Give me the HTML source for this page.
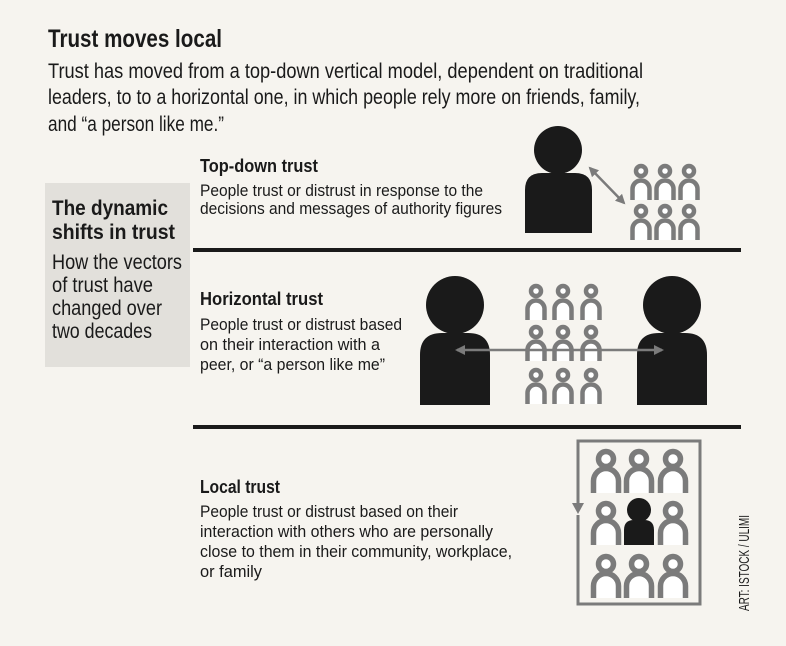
<!DOCTYPE html>
<html><head><meta charset="utf-8"><style>
html,body{margin:0;padding:0;background:#f6f4ef;}
svg{display:block}
text{font-family:"Liberation Sans",sans-serif;fill:#1a1a1a}
.b{font-weight:bold}
</style></head><body>
<svg width="786" height="646" viewBox="0 0 786 646" xmlns="http://www.w3.org/2000/svg">
<defs>
<g id="p">
<circle cx="16" cy="11" r="7.5" fill="#fff" stroke="#7b7b7b" stroke-width="5.5"/>
<path d="M3.5 45 V33 A12.5 12.5 0 0 1 28.5 33 V45" fill="#fff" stroke="#7b7b7b" stroke-width="5.5"/>
</g>
<g id="s">
<circle cx="11" cy="8" r="5" fill="#fff" stroke="#7b7b7b" stroke-width="4.5"/>
<path d="M2.5 37 V26 A8.5 8.5 0 0 1 19.5 26 V37" fill="#fff" stroke="#7b7b7b" stroke-width="4.5"/>
</g>
<marker id="a" markerWidth="10" markerHeight="10" refX="8" refY="5" orient="auto-start-reverse" markerUnits="userSpaceOnUse"><path d="M0 0 L10 5 L0 10 Z" fill="#7b7b7b"/></marker>
</defs>
<rect x="0" y="0" width="786" height="646" fill="#f6f4ef"/>
<text x="48" y="47" class="b" font-size="25" textLength="174" lengthAdjust="spacingAndGlyphs">Trust moves local</text>
<text x="48" y="78" font-size="21" textLength="595" lengthAdjust="spacingAndGlyphs">Trust has moved from a top-down vertical model, dependent on traditional</text>
<text x="48" y="104" font-size="21" textLength="592" lengthAdjust="spacingAndGlyphs">leaders, to to a horizontal one, in which people rely more on friends, family,</text>
<text x="48" y="131" font-size="21" textLength="176" lengthAdjust="spacingAndGlyphs">and “a person like me.”</text>

<rect x="45" y="183" width="145" height="184" fill="#e2e0db"/>
<text x="52" y="215" class="b" font-size="21" textLength="116" lengthAdjust="spacingAndGlyphs">The dynamic</text>
<text x="52" y="239" class="b" font-size="21" textLength="123" lengthAdjust="spacingAndGlyphs">shifts in trust</text>
<text x="52" y="269" font-size="21" textLength="130" lengthAdjust="spacingAndGlyphs">How the vectors</text>
<text x="52" y="292" font-size="21" textLength="101" lengthAdjust="spacingAndGlyphs">of trust have</text>
<text x="52" y="315" font-size="21" textLength="110" lengthAdjust="spacingAndGlyphs">changed over</text>
<text x="52" y="338" font-size="21" textLength="100" lengthAdjust="spacingAndGlyphs">two decades</text>

<text x="200" y="172" class="b" font-size="18" textLength="118" lengthAdjust="spacingAndGlyphs">Top-down trust</text>
<text x="200" y="196" font-size="17" textLength="283" lengthAdjust="spacingAndGlyphs">People trust or distrust in response to the</text>
<text x="200" y="214" font-size="17" textLength="302" lengthAdjust="spacingAndGlyphs">decisions and messages of authority figures</text>

<rect x="193" y="248" width="548" height="4" fill="#1a1a1a"/>
<rect x="193" y="425" width="548" height="4" fill="#1a1a1a"/>

<text x="200" y="305" class="b" font-size="18" textLength="123" lengthAdjust="spacingAndGlyphs">Horizontal trust</text>
<text x="200" y="330" font-size="17" textLength="202" lengthAdjust="spacingAndGlyphs">People trust or distrust based</text>
<text x="200" y="350" font-size="17" textLength="180" lengthAdjust="spacingAndGlyphs">on their interaction with a</text>
<text x="200" y="370" font-size="17" textLength="185" lengthAdjust="spacingAndGlyphs">peer, or “a person like me”</text>

<text x="200" y="493" class="b" font-size="18" textLength="80" lengthAdjust="spacingAndGlyphs">Local trust</text>
<text x="200" y="517" font-size="17" textLength="258" lengthAdjust="spacingAndGlyphs">People trust or distrust based on their</text>
<text x="200" y="537" font-size="17" textLength="293" lengthAdjust="spacingAndGlyphs">interaction with others who are personally</text>
<text x="200" y="557" font-size="17" textLength="312" lengthAdjust="spacingAndGlyphs">close to them in their community, workplace,</text>
<text x="200" y="577" font-size="17" textLength="62" lengthAdjust="spacingAndGlyphs">or family</text>

<!-- top-down -->
<circle cx="558" cy="150" r="24" fill="#1a1a1a"/>
<path d="M525 233 V190 Q525 173 542 173 H575 Q592 173 592 190 V233 Z" fill="#1a1a1a"/>
<line x1="590" y1="168" x2="624" y2="203" stroke="#7b7b7b" stroke-width="2.5" marker-start="url(#a)" marker-end="url(#a)"/>
<use href="#s" x="630" y="163"/><use href="#s" x="654" y="163"/><use href="#s" x="678" y="163"/>
<use href="#s" x="630" y="203"/><use href="#s" x="654" y="203"/><use href="#s" x="678" y="203"/>

<!-- horizontal -->
<circle cx="455" cy="305" r="29" fill="#1a1a1a"/>
<path d="M420 405 V355 Q420 333 442 333 H468 Q490 333 490 355 V405 Z" fill="#1a1a1a"/>
<circle cx="672" cy="305" r="29" fill="#1a1a1a"/>
<path d="M637 405 V355 Q637 333 659 333 H685 Q707 333 707 355 V405 Z" fill="#1a1a1a"/>
<use href="#s" x="525" y="283"/><use href="#s" x="552" y="283"/><use href="#s" x="580" y="283"/>
<use href="#s" x="525" y="324"/><use href="#s" x="552" y="324"/><use href="#s" x="580" y="324"/>
<use href="#s" x="525" y="367"/><use href="#s" x="552" y="367"/><use href="#s" x="580" y="367"/>
<line x1="457" y1="350" x2="662" y2="350" stroke="#7b7b7b" stroke-width="2.5" marker-start="url(#a)" marker-end="url(#a)"/>

<!-- local -->
<rect x="578" y="441" width="122" height="163" fill="none" stroke="#7b7b7b" stroke-width="3"/>
<rect x="572" y="505" width="12" height="10" fill="#f6f4ef"/>
<path d="M572 503 L584 503 L578 514 Z" fill="#7b7b7b"/>
<g transform="translate(590,448)"><use href="#p"/></g>
<g transform="translate(623,448)"><use href="#p"/></g>
<g transform="translate(657,448)"><use href="#p"/></g>
<g transform="translate(590,500)"><use href="#p"/></g>
<g transform="translate(657,500)"><use href="#p"/></g>
<circle cx="639" cy="510" r="12" fill="#1a1a1a"/>
<path d="M624 545 V530 Q624 520 634 520 H644 Q654 520 654 530 V545 Z" fill="#1a1a1a"/>
<g transform="translate(590,553)"><use href="#p"/></g>
<g transform="translate(623,553)"><use href="#p"/></g>
<g transform="translate(657,553)"><use href="#p"/></g>

<text transform="translate(749,611) rotate(-90)" font-size="15" textLength="96" lengthAdjust="spacingAndGlyphs">ART: ISTOCK / ULIMI</text>
</svg>
</body></html>
